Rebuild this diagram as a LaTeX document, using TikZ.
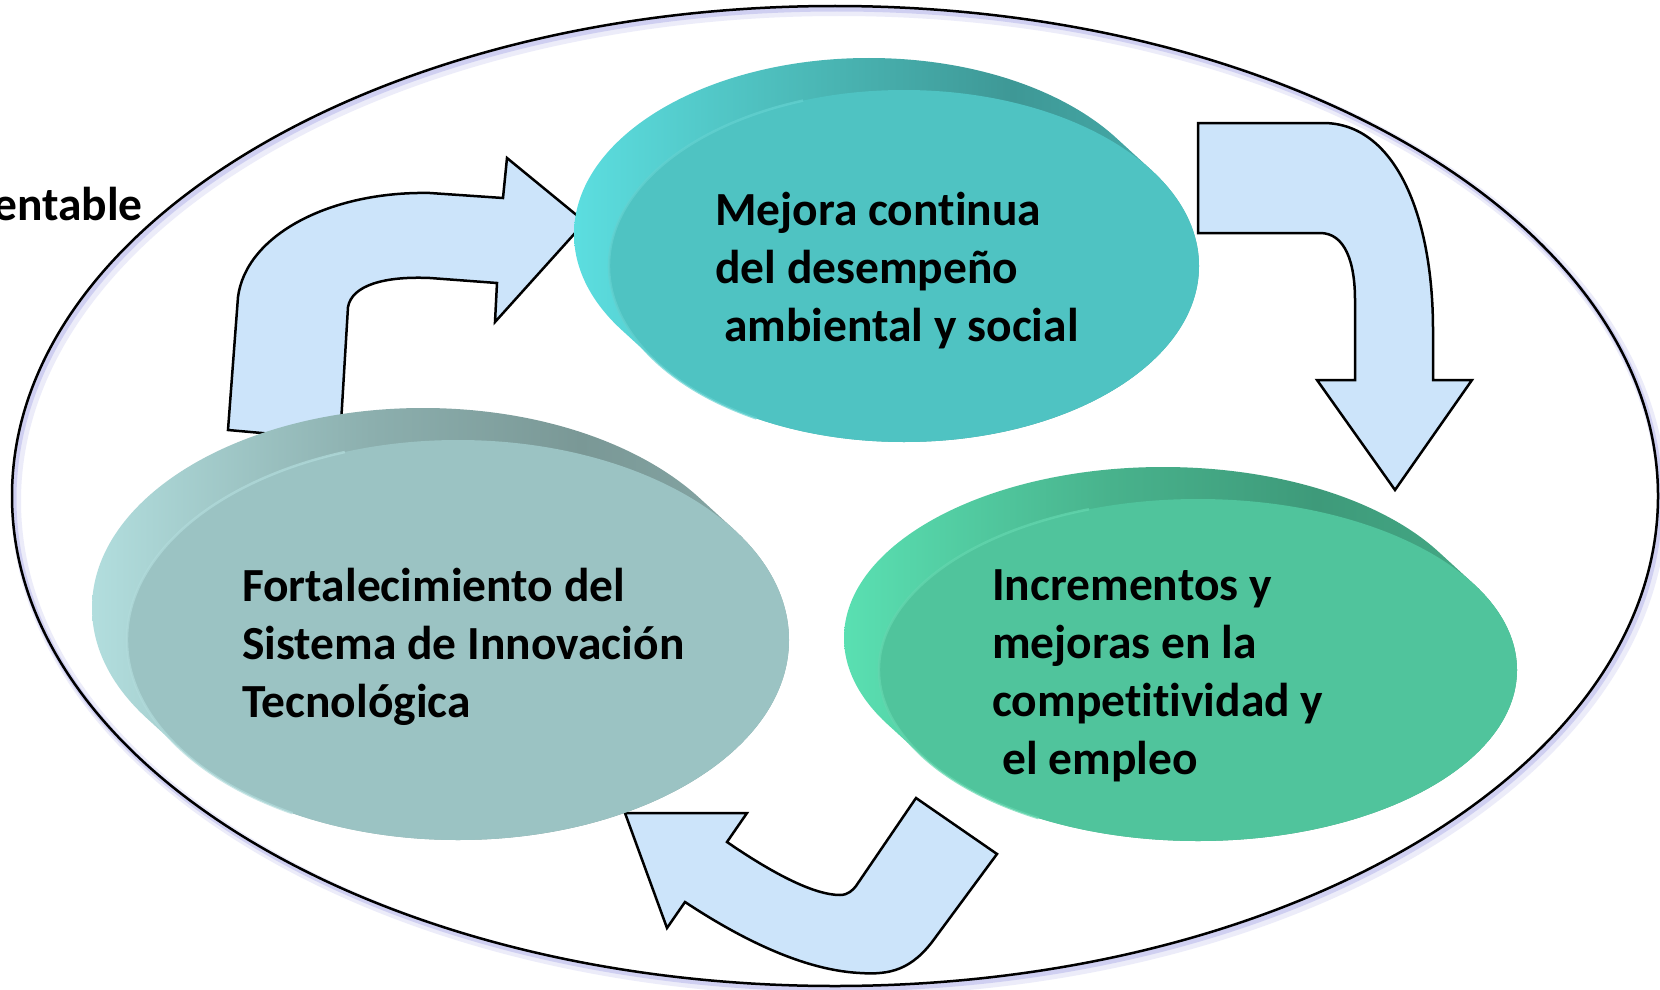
\documentclass[tikz,border=0pt]{standalone}
\usepackage{fontspec}
\setmainfont{Carlito}[Ligatures=NoCommon]
\definecolor{arrowfill}{RGB}{204,228,250}
\definecolor{glowc}{RGB}{180,180,235}
\definecolor{tFront}{RGB}{79,195,194}
\definecolor{tLight}{RGB}{92,222,224}
\definecolor{tMid}{RGB}{74,182,180}
\definecolor{tDark}{RGB}{62,152,150}
\definecolor{tRim}{RGB}{100,210,209}
\definecolor{lFront}{RGB}{155,195,195}
\definecolor{lLight}{RGB}{178,222,222}
\definecolor{lMid}{RGB}{140,175,174}
\definecolor{lDark}{RGB}{122,152,150}
\definecolor{lRim}{RGB}{178,220,220}
\definecolor{rFront}{RGB}{80,196,156}
\definecolor{rLight}{RGB}{90,224,178}
\definecolor{rMid}{RGB}{72,178,140}
\definecolor{rDark}{RGB}{62,154,122}
\definecolor{rRim}{RGB}{100,215,175}
\pgfdeclarehorizontalshading{tside}{100bp}{color(0bp)=(tLight); color(25bp)=(tLight); color(45bp)=(tMid); color(60bp)=(tDark); color(80bp)=(tMid); color(100bp)=(tMid)}
\pgfdeclarehorizontalshading{lside}{100bp}{color(0bp)=(lLight); color(25bp)=(lLight); color(45bp)=(lMid); color(60bp)=(lDark); color(80bp)=(lMid); color(100bp)=(lMid)}
\pgfdeclarehorizontalshading{rside}{100bp}{color(0bp)=(rLight); color(25bp)=(rLight); color(45bp)=(rMid); color(60bp)=(rDark); color(80bp)=(rMid); color(100bp)=(rMid)}
\tikzset{
  blockarrow/.style={fill=arrowfill, draw=black, line width=2.5pt, line join=miter},
  lbl/.style={font=\fontsize{47.5}{58}\selectfont\bfseries, align=left, inner sep=0pt, text=black},
}
% #1 cx, #2 cy, #3 rx, #4 ry, #5 shading, #6 front colour, #7 rim colour
\newcommand{\mydisc}[7]{%
  \begin{scope}
    \clip \foreach \t in {0,1,...,24} { ({#1-35*\t/24},{#2-32*\t/24}) ellipse [x radius=#3, y radius=#4] };
    \shade[shading=#5] ({#1-35-#3-2},{#2-32-#4-2}) rectangle ({#1+#3+2},{#2+#4+2});
  \end{scope}
  \fill[#6] (#1,#2) ellipse [x radius=#3, y radius=#4];
  \draw[#7, line width=2.5pt, opacity=0.7] ({#1+#3*cos(120)},{#2+#4*sin(120)}) arc [start angle=120, end angle=250, x radius=#3, y radius=#4];
}
\begin{document}
\begin{tikzpicture}[x=1pt, y=-1pt]
\useasboundingbox (0,0) rectangle (1660,990);
\fill[white] (0,0) rectangle (1660,990);

% outer ellipse with soft lavender shadow
\draw[glowc, line width=10pt, opacity=0.25] (839,501) ellipse [x radius=823, y radius=490];
\draw[glowc, line width=5pt, opacity=0.5] (837,499) ellipse [x radius=823, y radius=490];
\draw[black, line width=2.5pt] (835,496) ellipse [x radius=823, y radius=490];

% partially visible title text
\node[lbl, anchor=base east] (frag1) at (3,123) {n};
\node[lbl, anchor=base east] (frag2) at (143,220) {entable};

% block arrows
\filldraw[blockarrow] (228,430) -- (238,297) .. controls (246,235) and (330,191) .. (430,193) -- (503,198) -- (507,158) -- (585,222) -- (495,322) -- (497,283) -- (430,278) .. controls (385,276) and (352,285) .. (348,307) -- (340,440) -- cycle;
\filldraw[blockarrow] (1198,123) -- (1323,123) .. controls (1395,123) and (1433,215) .. (1433,330) -- (1433,380) -- (1472,380) -- (1395,490) -- (1317,380) -- (1355,380) -- (1355,300) .. controls (1355,262) and (1345,233) .. (1320,233) -- (1198,233) -- cycle;
\filldraw[blockarrow] (916,798) -- (997,854) -- (935,938) .. controls (912,970) and (890,975) .. (860,973) .. controls (800,970) and (735,935) .. (685,902) -- (667,928) -- (625,813) -- (747,813) -- (727,842) .. controls (775,875) and (815,895) .. (840,895) .. controls (848,895) and (853,890) .. (856,886) -- cycle;

% discs
\mydisc{904}{266}{295}{176}{tside}{tFront}{tRim}
\mydisc{458}{640}{331}{200}{lside}{lFront}{lRim}
\mydisc{1198}{670}{319}{171}{rside}{rFront}{rRim}

% texts
\node[lbl, anchor=west] (mejora) at (715,271) {Mejora continua\\del desempeño\\\hspace*{9pt}ambiental y social};
\node[lbl, anchor=west] (fortal) at (242,647) {Fortalecimiento del\\Sistema de Innovación\\Tecnológica};
\node[lbl, anchor=west] (increm) at (992,676) {Incrementos y\\mejoras en la\\competitividad y\\\hspace*{10pt}el empleo};
\end{tikzpicture}
\end{document}
